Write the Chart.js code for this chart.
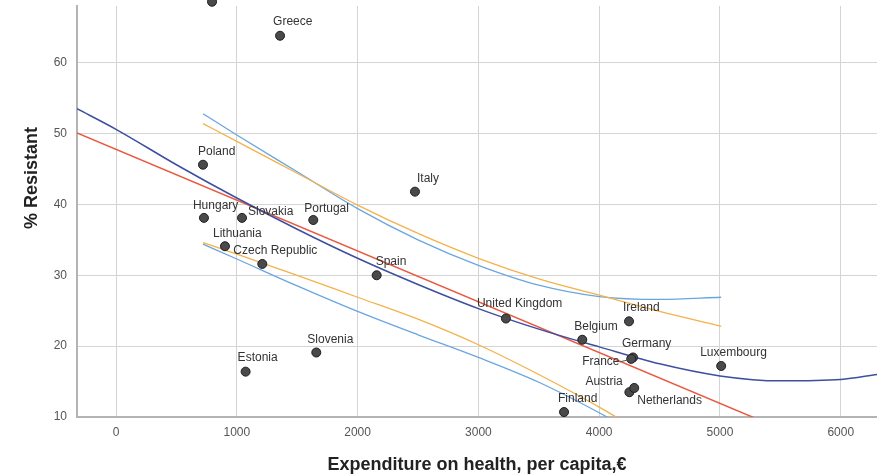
<!DOCTYPE html>
<html>
<head>
<meta charset="utf-8">
<script src="https://cdn.jsdelivr.net/npm/chart.js@4.4.1/dist/chart.umd.min.js"></script>
<style>
  html, body { margin: 0; padding: 0; background: #fff; }
  #wrap { width: 877px; height: 476px; position: relative; }
</style>
</head>
<body>
<div id="wrap"><canvas id="grafico"></canvas></div>
<script>
// countries and their values
const countries = ['', 'Greece', 'Poland', 'Italy', 'Hungary', 'Slovakia', 'Portugal', 'Lithuania',
  'Czech Republic', 'Spain', 'Slovenia', 'Estonia', 'United Kingdom', 'Belgium', 'Ireland',
  'Germany', 'France', 'Luxembourg', 'Austria', 'Netherlands', 'Finland'];
const spending = [795, 1358, 720, 2475, 728, 1043, 1633, 902, 1211, 2158, 1658, 1073, 3228, 3860,
  4247, 4280, 4265, 5010, 4250, 4290, 3709];
const resistant = [68.6, 63.8, 45.6, 41.8, 38.1, 38.1, 37.8, 34.1, 31.6, 30.0, 19.1, 16.4, 23.9, 20.9,
  23.5, 18.4, 18.2, 17.2, 13.5, 14.1, 10.7];

// fitted lines
const lineX = [-323, 6300];
const linearFit = [50.1, 2.6];
const quadX = [-323, 0, 500, 1000, 1500, 2000, 2500, 3000, 3500, 4000, 4500, 5000, 5500, 6000, 6300];
const quadFit = [53.5, 50.6, 45.6, 40.9, 36.5, 32.4, 28.7, 25.3, 22.4, 19.9, 17.5, 15.8, 15.1, 15.3, 16.0];

// confidence bands (over the range of the data)
const bandX = [720, 1000, 1500, 2000, 2500, 3000, 3500, 4000, 4500, 5010];
const linUpper = [51.4, 48.9, 44.4, 39.9, 35.9, 32.4, 29.5, 27.2, 24.9, 22.8];
const linLower = [34.6, 33.0, 30.0, 26.9, 23.8, 20.2, 16.0, 11.4, 6.3, 1.0];
const quadUpper = [52.8, 49.8, 44.6, 39.4, 35.0, 31.4, 28.6, 27.0, 26.6, 26.9];
const quadLower = [34.4, 32.3, 28.5, 24.9, 21.6, 18.4, 14.9, 10.6, 5.8, 1.0];

const xTicks = [0, 1000, 2000, 3000, 4000, 5000, 6000];
const yTicks = [10, 20, 30, 40, 50, 60];

// where each country name sits relative to its point
const labelPos = {
  'Greece': [-7, -14], 'Poland': [-5, -13], 'Italy': [2, -13], 'Hungary': [-11, -12],
  'Slovakia': [6, -6], 'Portugal': [-9, -11], 'Lithuania': [-12, -13], 'Czech Republic': [-29, -13],
  'Spain': [-1, -14], 'Slovenia': [-9, -13], 'Estonia': [-8, -14], 'United Kingdom': [-29, -15],
  'Belgium': [-8, -13], 'Ireland': [-6, -14], 'Germany': [-11, -14], 'France': [-49, 3],
  'Luxembourg': [-21, -13], 'Austria': [-44, -11], 'Netherlands': [3, 13], 'Finland': [-6, -13]
};

function pts(xs, ys) {
  return xs.map((x, i) => ({ x: x, y: ys[i] }));
}

function lineSet(data, color, width, smooth) {
  return {
    type: 'scatter', data: data, showLine: true, borderColor: color, borderWidth: width,
    pointRadius: 0, pointHoverRadius: 0, fill: false,
    cubicInterpolationMode: smooth ? 'monotone' : 'default', tension: smooth ? 0.4 : 0
  };
}

const pointLabels = {
  id: 'pointLabels',
  afterDatasetsDraw(chart) {
    const ctx = chart.ctx;
    const meta = chart.getDatasetMeta(0);
    ctx.save();
    ctx.font = '12px "Liberation Sans", Arial, sans-serif';
    ctx.fillStyle = '#333';
    ctx.textBaseline = 'middle';
    ctx.textAlign = 'left';
    meta.data.forEach((p, i) => {
      const name = countries[i];
      const off = labelPos[name];
      if (!name || !off) return;
      ctx.fillText(name, p.x + off[0], p.y + off[1]);
      if (name === 'France') {
        const w = ctx.measureText(name).width;
        ctx.strokeStyle = '#555';
        ctx.lineWidth = 1;
        ctx.beginPath();
        ctx.moveTo(p.x + off[0] + w, p.y + off[1]);
        ctx.lineTo(p.x - 3, p.y + 1);
        ctx.stroke();
      }
    });
    ctx.restore();
  }
};

const axisTitles = {
  id: 'axisTitles',
  afterDraw(chart) {
    const ctx = chart.ctx;
    ctx.save();
    ctx.font = 'bold 18px "Liberation Sans", Arial, sans-serif';
    ctx.fillStyle = '#222';
    ctx.textAlign = 'center';
    ctx.textBaseline = 'middle';
    ctx.fillText('Expenditure on health, per capita,€', 477, 465);
    ctx.translate(32, 178);
    ctx.rotate(-Math.PI / 2);
    ctx.fillText('% Resistant', 0, 0);
    ctx.restore();
  }
};

const tickFont = { family: '"Liberation Sans", Arial, sans-serif', size: 12 };

const canvas = document.getElementById('grafico');
const ctx = canvas.getContext('2d');

new Chart(ctx, {
  type: 'scatter',
  data: {
    datasets: [
      {
        data: pts(spending, resistant),
        backgroundColor: '#4a4a4a',
        borderColor: '#1e1e1e',
        borderWidth: 1,
        pointRadius: 4.5,
        clip: false
      },
      lineSet(pts(quadX, quadFit), '#3d4f9f', 1.5, true),
      lineSet(pts(lineX, linearFit), '#e8593f', 1.5, false),
      lineSet(pts(bandX, linUpper), '#f4b24a', 1.3, true),
      lineSet(pts(bandX, linLower), '#f4b24a', 1.3, true),
      lineSet(pts(bandX, quadUpper), '#6aa6e0', 1.3, true),
      lineSet(pts(bandX, quadLower), '#6aa6e0', 1.3, true)
    ]
  },
  options: {
    responsive: true,
    maintainAspectRatio: false,
    animation: false,
    layout: { autoPadding: false, padding: { left: 0, right: 0, top: 6, bottom: 0 } },
    plugins: { legend: { display: false }, tooltip: { enabled: false } },
    scales: {
      x: {
        type: 'linear', min: -323, max: 6300,
        afterBuildTicks: (s) => { s.ticks = xTicks.map(v => ({ value: v })); },
        afterFit: (s) => { s.height = 59; s.paddingLeft = 0; s.paddingRight = 0; },
        grid: { color: '#d4d4d4', lineWidth: 1, drawTicks: false },
        border: { display: true, color: '#b4b4b4', width: 2 },
        ticks: { color: '#555', padding: 8, font: tickFont, callback: (v) => String(v) }
      },
      y: {
        type: 'linear', min: 10, max: 68,
        afterBuildTicks: (s) => { s.ticks = yTicks.map(v => ({ value: v })); },
        afterFit: (s) => { s.width = 77; s.paddingTop = 0; s.paddingBottom = 0; },
        grid: { color: '#d4d4d4', lineWidth: 1, drawTicks: false },
        border: { display: true, color: '#b4b4b4', width: 2 },
        ticks: { color: '#555', padding: 10, font: tickFont, callback: (v) => String(v) }
      }
    }
  },
  plugins: [pointLabels, axisTitles]
});
</script>
</body>
</html>
